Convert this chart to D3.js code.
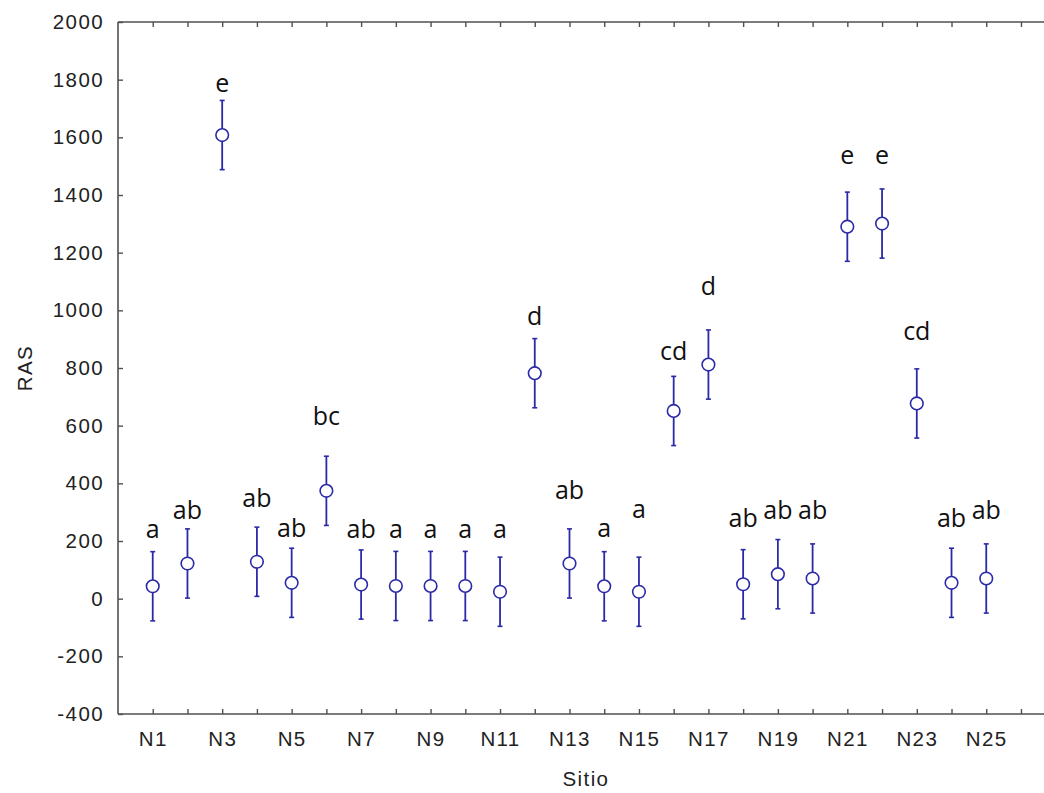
<!DOCTYPE html>
<html>
<head>
<meta charset="utf-8">
<script src="https://cdn.jsdelivr.net/npm/d3@7"></script>
<style>
  html, body { margin: 0; padding: 0; background: #fff; }
  svg { display: block; }
</style>
</head>
<body>
<svg id="chart" width="1044" height="793"></svg>
<script>
// ---- data ----
const sites = ["N1","N2","N3","N4","N5","N6","N7","N8","N9","N10","N11","N12","N13",
               "N14","N15","N16","N17","N18","N19","N20","N21","N22","N23","N24","N25"];
const means = [43, 122, 1608, 128, 55, 374, 49, 44, 44, 44, 24, 782, 122,
               43, 24, 651, 812, 50, 85, 70, 1290, 1301, 677, 55, 70];
const ci    = [120, 120, 120, 120, 120, 120, 120, 120, 120, 120, 120, 120, 120,
               120, 120, 120, 120, 120, 120, 120, 120, 120, 120, 120, 120];
const letters = ["a","ab","e","ab","ab","bc","ab","a","a","a","a","d","ab",
                 "a","a","cd","d","ab","ab","ab","e","e","cd","ab","ab"];
// baseline of each significance letter, in RAS units
const letterAt = [209, 276, 1758, 318, 214, 602, 209, 212, 212, 212, 212, 950, 344,
                  214, 280, 827, 1053, 249, 275, 275, 1506, 1506, 897, 247, 275];
const yTicks = [-400, -200, 0, 200, 400, 600, 800, 1000, 1200, 1400, 1600, 1800, 2000];
const xTickPos = [1,2,3,4,5,6,7,8,9,10,11,12,13,14,15,16,17,18,19,20,21,22,23,24,25,26];
const xLabelled = ["N1","N3","N5","N7","N9","N11","N13","N15","N17","N19","N21","N23","N25"];

(function () {
// ---- layout ----
const svg = d3.select("#chart");
const mLeft = 118, mTop = 22, mBottom = 714;
const x = d3.scaleLinear().domain([0, 27]).range([mLeft, mLeft + 27 * 34.73]);
const y = d3.scaleLinear().domain([-400, 2000]).range([mBottom, mTop]);

const axisColor = "#505050";
const blue = "#2a2aa8";
const font = "'Liberation Sans', Arial, sans-serif";
const tickFs = 20.5, tickLs = "1.4px";

// frame lines (left, bottom, top)
const frame = svg.append("g").attr("stroke", axisColor).attr("stroke-width", 1.6);
frame.append("line").attr("x1", mLeft).attr("x2", mLeft).attr("y1", mTop).attr("y2", mBottom);
frame.append("line").attr("x1", mLeft).attr("x2", 1044).attr("y1", mBottom).attr("y2", mBottom);
frame.append("line").attr("x1", mLeft).attr("x2", 1044).attr("y1", mTop).attr("y2", mTop);

// y axis (ticks inside)
const yAxis = d3.axisLeft(y).tickValues(yTicks).tickSize(-5).tickPadding(14).tickFormat(d => String(d));
const gy = svg.append("g").attr("transform", `translate(${mLeft},0)`).call(yAxis);
gy.select(".domain").remove();
gy.selectAll(".tick line").attr("stroke", axisColor).attr("stroke-width", 1.4);
gy.selectAll(".tick text")
  .attr("font-family", font)
  .attr("font-size", tickFs).attr("letter-spacing", tickLs).attr("fill", "#222");

// x axis bottom (ticks inside)
const xAxis = d3.axisBottom(x).tickValues(xTickPos).tickSize(-5).tickPadding(0)
  .tickFormat(d => { const s = "N" + d; return xLabelled.includes(s) ? s : ""; });
const gx = svg.append("g").attr("transform", `translate(0,${mBottom})`).call(xAxis);
gx.select(".domain").remove();
gx.selectAll(".tick line").attr("stroke", axisColor).attr("stroke-width", 1.4);
gx.selectAll(".tick text")
  .attr("y", 32).attr("dy", 0)
  .attr("font-family", font)
  .attr("font-size", tickFs).attr("letter-spacing", tickLs).attr("fill", "#222");

// x axis top (ticks inside, no labels)
const xTop = d3.axisTop(x).tickValues(xTickPos).tickSize(-5).tickFormat("");
const gt = svg.append("g").attr("transform", `translate(0,${mTop})`).call(xTop);
gt.select(".domain").remove();
gt.selectAll(".tick line").attr("stroke", axisColor).attr("stroke-width", 1.4);

// axis titles
svg.append("text")
  .attr("transform", `translate(32,${(mTop + mBottom) / 2}) rotate(-90)`)
  .attr("text-anchor", "middle")
  .attr("font-family", font)
  .attr("font-size", tickFs).attr("letter-spacing", tickLs).attr("fill", "#222")
  .text("RAS");
svg.append("text")
  .attr("x", 586).attr("y", 786)
  .attr("text-anchor", "middle")
  .attr("font-family", font)
  .attr("font-size", tickFs).attr("letter-spacing", tickLs).attr("fill", "#222")
  .text("Sitio");

// data rows
const rows = sites.map((s, i) => ({ s, i: i + 1, m: means[i], e: ci[i], l: letters[i], la: letterAt[i] }));
const g = svg.append("g");
const capW = 2.5;
const pts = g.selectAll("g.pt").data(rows).enter().append("g").attr("class", "pt");
pts.append("line")
  .attr("x1", d => x(d.i)).attr("x2", d => x(d.i))
  .attr("y1", d => y(d.m - d.e)).attr("y2", d => y(d.m + d.e))
  .attr("stroke", blue).attr("stroke-width", 1.8);
pts.append("line")
  .attr("x1", d => x(d.i) - capW).attr("x2", d => x(d.i) + capW)
  .attr("y1", d => y(d.m + d.e)).attr("y2", d => y(d.m + d.e))
  .attr("stroke", blue).attr("stroke-width", 1.6);
pts.append("line")
  .attr("x1", d => x(d.i) - capW).attr("x2", d => x(d.i) + capW)
  .attr("y1", d => y(d.m - d.e)).attr("y2", d => y(d.m - d.e))
  .attr("stroke", blue).attr("stroke-width", 1.6);
pts.append("circle")
  .attr("cx", d => x(d.i)).attr("cy", d => y(d.m)).attr("r", 6.3)
  .attr("fill", "#fff").attr("stroke", blue).attr("stroke-width", 1.6);
pts.append("text")
  .attr("x", d => x(d.i)).attr("y", d => y(d.la))
  .attr("text-anchor", "middle")
  .attr("font-family", "'Open Sans', 'Noto Sans', sans-serif")
  .attr("font-size", 25).attr("fill", "#111")
  .text(d => d.l);
})();
</script>
</body>
</html>
